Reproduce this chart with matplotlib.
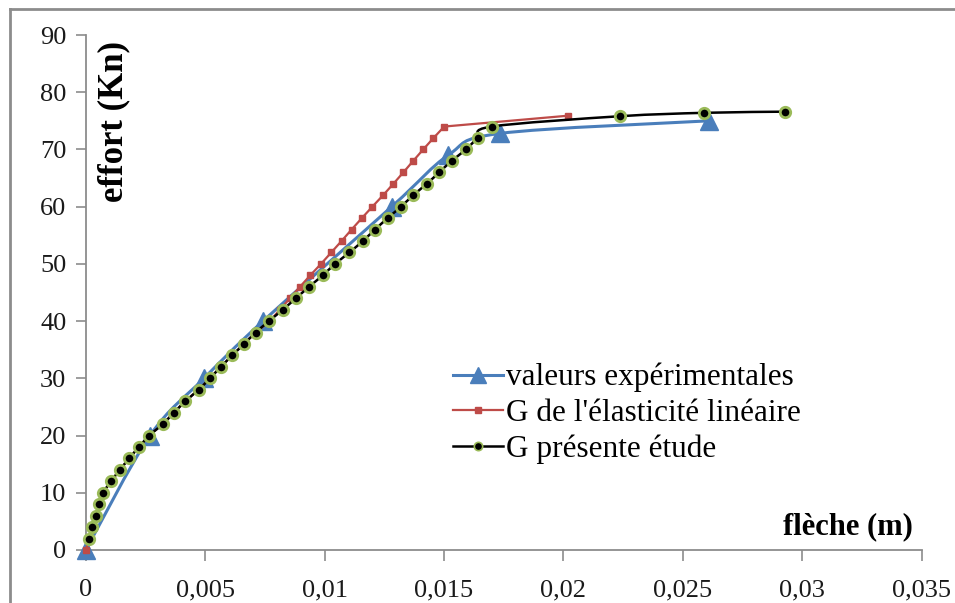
import numpy as np
import matplotlib
matplotlib.use("Agg")
import matplotlib.pyplot as plt
from matplotlib.path import Path
from matplotlib.patches import PathPatch
from matplotlib.lines import Line2D

# --- data -------------------------------------------------------------
exp_x = [0.0, 0.00269, 0.00495, 0.00742, 0.01281, 0.01518, 0.01735, 0.02609]
exp_y = [0, 20, 30, 40, 60, 69, 72.8, 75]

lin_x = [0.0, 0.00015, 0.00027, 0.00043, 0.00055, 0.00073, 0.00105, 0.00143,
         0.00181, 0.00223, 0.00266, 0.00322, 0.00369, 0.00417, 0.00472,
         0.0052, 0.00565, 0.00613, 0.00662, 0.00711, 0.0077,
         0.00813, 0.00855, 0.00897, 0.0094, 0.00985, 0.01028, 0.01071,
         0.01113, 0.01156, 0.012, 0.01245, 0.01288, 0.0133, 0.01371,
         0.01413, 0.01456, 0.01501, 0.0202]
lin_y = [0, 2, 4, 6, 8, 10, 12, 14, 16, 18, 20, 22, 24, 26, 28, 30, 32, 34,
         36, 38, 40, 42, 44, 46, 48, 50, 52, 54, 56, 58, 60, 62, 64, 66, 68,
         70, 72, 74, 75.9]

etude_x = [0.00015, 0.00027, 0.00043, 0.00055, 0.00073, 0.00105, 0.00143,
           0.00181, 0.00223, 0.00266, 0.00322, 0.00369, 0.00417, 0.00472,
           0.0052, 0.00565, 0.00613, 0.00662, 0.00711, 0.00767, 0.00825,
           0.0088, 0.00935, 0.00992, 0.01044, 0.01104, 0.0116, 0.01211,
           0.01264, 0.0132, 0.01371, 0.01428, 0.0148, 0.01532, 0.01592,
           0.01641, 0.017, 0.02235, 0.02589, 0.02928]
etude_y = [2, 4, 6, 8, 10, 12, 14, 16, 18, 20, 22, 24, 26, 28, 30, 32, 34, 36,
           38, 40, 42, 44, 46, 48, 50, 52, 54, 56, 58, 60, 62, 64, 66, 68, 70,
           72, 74, 75.8, 76.4, 76.6]

x_ticks = [0, 0.005, 0.01, 0.015, 0.02, 0.025, 0.03, 0.035]
x_tick_labels = ["0", "0,005", "0,01", "0,015", "0,02", "0,025", "0,03", "0,035"]
y_ticks = [0, 10, 20, 30, 40, 50, 60, 70, 80, 90]

labels = ["valeurs expérimentales", "G de l'élasticité linéaire", "G présente étude"]

# --- style ------------------------------------------------------------
BLUE = "#4A7EBB"
RED = "#BE4B48"
GREEN = "#9BBB59"
AXIS_GREY = "#8C8C8C"
SERIF = ["Liberation Serif", "DejaVu Serif"]


def smooth_path(x, y):
    """Catmull-Rom curve through the points, as cubic Bezier segments."""
    pts = np.column_stack([x, y]).astype(float)
    verts = [pts[0]]
    codes = [Path.MOVETO]
    n = len(pts)
    for i in range(n - 1):
        p0 = pts[i - 1] if i > 0 else pts[i]
        p1 = pts[i]
        p2 = pts[i + 1]
        p3 = pts[i + 2] if i + 2 < n else pts[i + 1]
        verts += [p1 + (p2 - p0) / 6.0, p2 - (p3 - p1) / 6.0, p2]
        codes += [Path.CURVE4] * 3
    return Path(verts, codes)


W, H = 955, 603
fig = plt.figure(figsize=(W / 100, H / 100), dpi=100)
fig.patch.set_facecolor("white")

x0_px, x1_px = 85.8, 921.6
y0_px, y1_px = 550.0, 35.0
ax = fig.add_axes([x0_px / W, 1 - y0_px / H, (x1_px - x0_px) / W, (y0_px - y1_px) / H])

# experimental values: smoothed blue line with triangles
ax.add_patch(PathPatch(smooth_path(exp_x, exp_y), fill=False, edgecolor=BLUE,
                       lw=2.2, zorder=2, capstyle="round", joinstyle="round"))
ax.plot(exp_x, exp_y, linestyle="none", marker="^", markersize=13,
        color=BLUE, markeredgecolor=BLUE, zorder=3, clip_on=False)

# linear elasticity model: straight red segments with small squares
ax.plot(lin_x, lin_y, color=RED, lw=1.6, marker="s", markersize=4,
        markerfacecolor=RED, markeredgecolor=RED, zorder=4, clip_on=False)

# present study: smoothed black line, black dots with green rims
ax.add_patch(PathPatch(smooth_path(etude_x, etude_y), fill=False,
                       edgecolor="black", lw=1.8, zorder=5))
ax.plot(etude_x, etude_y, linestyle="none", marker="o", markersize=7.5,
        markerfacecolor="black", markeredgecolor=GREEN, markeredgewidth=2.0,
        zorder=6, clip_on=False)

ax.set_xlim(0, 0.035)
ax.set_ylim(0, 90)
ax.set_xticks(x_ticks)
ax.set_xticklabels(x_tick_labels)
ax.set_yticks(y_ticks)
ax.set_yticklabels([str(v) for v in y_ticks])

for side in ("top", "right"):
    ax.spines[side].set_visible(False)
for side in ("left", "bottom"):
    ax.spines[side].set_color(AXIS_GREY)
    ax.spines[side].set_linewidth(1.3)

ax.tick_params(axis="both", direction="out", color=AXIS_GREY, width=1.2,
               labelsize=19, labelcolor="#1a1a1a")
ax.tick_params(axis="x", length=8, pad=13)
ax.tick_params(axis="y", length=7, pad=7)
for lab in ax.get_xticklabels() + ax.get_yticklabels():
    lab.set_fontfamily(SERIF)

ax.text(0.034, 0.832, "effort (Kn)", transform=ax.transAxes, rotation=90,
        ha="center", va="center", fontsize=25, fontweight="bold",
        family=SERIF)
ax.text(0.912, 0.045, "flèche (m)", transform=ax.transAxes,
        ha="center", va="center", fontsize=22, fontweight="bold",
        family=SERIF)

handles = [
    Line2D([], [], color=BLUE, lw=2.2, marker="^", markersize=12),
    Line2D([], [], color=RED, lw=1.6, marker="s", markersize=4),
    Line2D([], [], color="black", lw=1.8, marker="o", markersize=6,
           markerfacecolor="black", markeredgecolor=GREEN, markeredgewidth=1.2),
]
fig.legend(handles, labels, loc="upper left",
           bbox_to_anchor=(453 / W, 1 - 363 / H),
           frameon=False, borderpad=0, borderaxespad=0,
           handlelength=1.6, handletextpad=0.1, labelspacing=0.2,
           prop={"family": SERIF, "size": 22.5})

# outer chart frame (top and left edges fall inside the image)
fig.add_artist(Line2D([9.5 / W, 9.5 / W], [0, 1 - 8.5 / H], color=AXIS_GREY,
                      lw=2.0, transform=fig.transFigure))
fig.add_artist(Line2D([9.5 / W, 1], [1 - 8.5 / H, 1 - 8.5 / H], color=AXIS_GREY,
                      lw=2.0, transform=fig.transFigure))

fig.savefig("out.png", dpi=100)
